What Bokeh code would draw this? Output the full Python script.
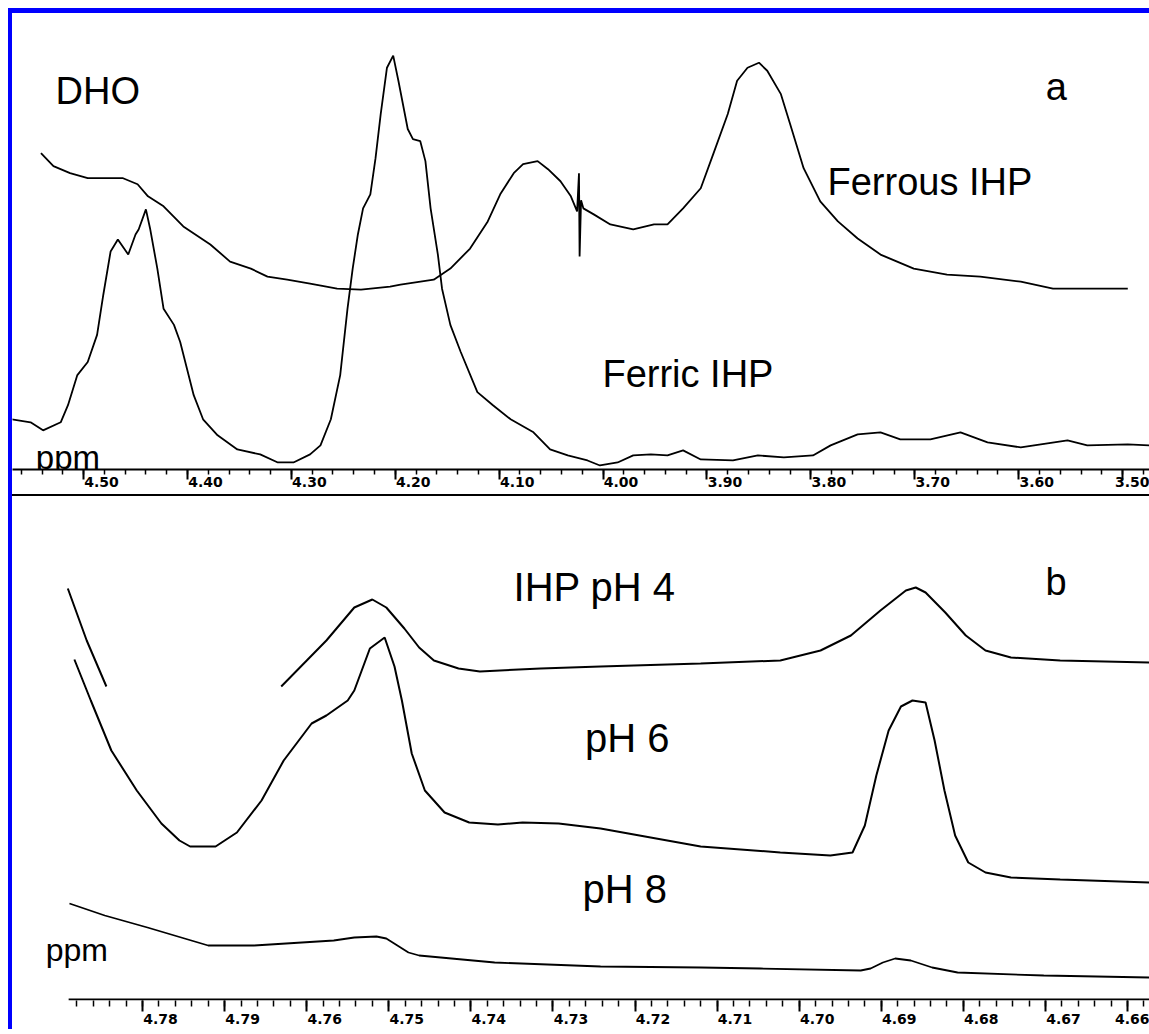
from bokeh.plotting import figure
from bokeh.layouts import column
from bokeh.models import Range1d, FixedTicker, Label, LinearAxis
from bokeh.embed import file_html
from bokeh.resources import INLINE

# ---------------- Panel a (DHO) ----------------
ferric_ppm = [4.570, 4.551, 4.539, 4.522, 4.515, 4.506, 4.496, 4.487, 4.481, 4.474,
              4.467, 4.457, 4.450, 4.447, 4.440, 4.436, 4.429, 4.423, 4.413, 4.407,
              4.394, 4.385, 4.371, 4.352, 4.330, 4.313, 4.298, 4.282, 4.272, 4.262,
              4.253, 4.246, 4.241, 4.236, 4.231, 4.224, 4.219, 4.214, 4.208, 4.202,
              4.197, 4.188, 4.183, 4.176, 4.171, 4.166, 4.159, 4.155, 4.147, 4.137,
              4.121, 4.106, 4.089, 4.067, 4.051, 4.034, 4.015, 4.003, 3.986, 3.971,
              3.954, 3.938, 3.923, 3.906, 3.875, 3.851, 3.826, 3.798, 3.781, 3.755,
              3.733, 3.714, 3.685, 3.656, 3.630, 3.598, 3.553, 3.534, 3.495, 3.474]
ferric_int = [50, 47, 39, 47, 64, 94, 107, 134, 174, 217,
              229, 214, 234, 239, 259, 240, 200, 160, 144, 127,
              74, 50, 34, 20, 15, 7, 7, 15, 24, 50,
              94, 160, 200, 234, 260, 274, 310, 354, 400, 412,
              387, 339, 329, 327, 307, 260, 214, 180, 144, 117,
              77, 64, 50, 37, 20, 14, 9, 4, 7, 14,
              15, 14, 19, 10, 9, 14, 12, 14, 24, 35,
              37, 30, 30, 37, 27, 22, 29, 24, 25, 24]

ferrous_ppm = [4.541, 4.529, 4.513, 4.496, 4.481, 4.462, 4.448, 4.438, 4.423, 4.404,
               4.378, 4.359, 4.339, 4.323, 4.304, 4.282, 4.256, 4.233, 4.205, 4.195,
               4.163, 4.147, 4.128, 4.111, 4.099, 4.086, 4.077, 4.063, 4.053, 4.041,
               4.031, 4.0250, 4.0232, 4.0226, 4.0212, 4.0190, 4.009, 3.993, 3.971, 3.951,
               3.938, 3.923, 3.906, 3.894, 3.880, 3.871, 3.861, 3.850, 3.842, 3.829,
               3.820, 3.807, 3.791, 3.774, 3.755, 3.733, 3.701, 3.669, 3.637, 3.598,
               3.567, 3.524, 3.495]
ferrous_int = [315, 302, 295, 290, 290, 290, 284, 272, 262, 242,
               224, 207, 200, 192, 189, 185, 180, 179, 182, 184,
               189, 200, 220, 247, 274, 295, 304, 307, 299, 287,
               272, 257, 295, 212, 268, 260, 254, 244, 239, 244,
               244, 260, 280, 314, 354, 387, 400, 405, 397, 374,
               344, 300, 267, 247, 230, 214, 200, 194, 192, 187,
               180, 180, 180]

a_major_ticks = [4.50, 4.40, 4.30, 4.20, 4.10, 4.00, 3.90, 3.80, 3.70, 3.60, 3.50]
a_tick_labels = ["4.50", "4.40", "4.30", "4.20", "4.10", "4.00", "3.90", "3.80",
                 "3.70", "3.60", "3.50"]

# ---------------- Panel b ----------------
ihp4_left_ppm = [4.7891, 4.7868, 4.7844]
ihp4_left_int = [412, 360, 314]
ihp4_ppm = [4.7631, 4.7576, 4.7542, 4.7520, 4.7503, 4.7481, 4.7463, 4.7445, 4.7415, 4.7389,
            4.7315, 4.7242, 4.7120, 4.7023, 4.6974, 4.6937, 4.6901, 4.6870, 4.6858, 4.6846,
            4.6822, 4.6797, 4.6773, 4.6742, 4.6682, 4.6573]
ihp4_int = [314, 360, 393, 401, 393, 372, 353, 340, 332, 329,
            332, 334, 337, 340, 350, 365, 390, 410, 413, 408,
            388, 365, 350, 343, 340, 338]

ph6_ppm = [4.7883, 4.7863, 4.7838, 4.7807, 4.7777, 4.7755, 4.7742, 4.7711, 4.7685, 4.7655,
           4.7628, 4.7594, 4.7576, 4.7550, 4.7542, 4.7523, 4.7505, 4.7493, 4.7484, 4.7472,
           4.7456, 4.7432, 4.7402, 4.7367, 4.7337, 4.7293, 4.7242, 4.7120, 4.7023, 4.6962,
           4.6935, 4.6920, 4.6906, 4.6891, 4.6876, 4.6862, 4.6846, 4.6835, 4.6823, 4.6810,
           4.6794, 4.6773, 4.6742, 4.6682, 4.6573]
ph6_int = [341, 300, 250, 210, 177, 160, 154, 154, 168, 200,
           240, 277, 285, 300, 310, 352, 363, 334, 300, 247,
           210, 188, 178, 176, 178, 177, 172, 154, 148, 145,
           148, 175, 225, 270, 294, 300, 298, 260, 210, 165,
           138, 128, 123, 121, 118]

ph8_ppm = [4.7889, 4.7846, 4.7794, 4.7720, 4.7664, 4.7567, 4.7542, 4.7515, 4.7503, 4.7476,
           4.7463, 4.7371, 4.7242, 4.7120, 4.7047, 4.6925, 4.6913, 4.6898, 4.6883, 4.6864,
           4.6838, 4.6807, 4.6702, 4.6573]
ph8_int = [97, 85, 73, 55, 55, 60, 63, 64, 62, 48,
           45, 38, 34, 33, 32, 30, 32, 38, 42, 40,
           33, 28, 25, 23]

b_major_ticks = [4.78, 4.77, 4.76, 4.75, 4.74, 4.73, 4.72, 4.71, 4.70, 4.69, 4.68, 4.67, 4.66]
b_tick_labels = ["4.78", "4.79", "4.76", "4.75", "4.74", "4.73", "4.72", "4.71",
                 "4.70", "4.69", "4.68", "4.67", "4.66"]
b_axis_start = 4.7890   # where the drawn ppm scale of panel b begins

LABEL_FONT = "Liberation Sans"
TICK_FONT = "DejaVu Sans"
W = 1137


def tick_axis(ax, major, minor, tick_out, minor_out):
    """Axis that draws the line and tick marks only (no labels)."""
    ax.ticker = FixedTicker(ticks=major, minor_ticks=minor)
    ax.axis_line_width = 2
    ax.axis_line_color = "black"
    ax.major_tick_in = 0
    ax.major_tick_out = tick_out
    ax.major_tick_line_width = 2
    ax.minor_tick_in = 0
    ax.minor_tick_out = minor_out
    ax.minor_tick_line_width = 1.5
    ax.major_label_standoff = 0
    ax.major_label_text_color = None


def label_axis(p, rng_name, major, labels, standoff):
    """Axis that draws only the tick labels (placed just right of each tick)."""
    ax = LinearAxis(x_range_name=rng_name, ticker=FixedTicker(ticks=major, minor_ticks=[]))
    ax.major_label_overrides = {t: s for t, s in zip(major, labels)}
    ax.axis_line_color = None
    ax.major_tick_line_color = None
    ax.minor_tick_line_color = None
    ax.major_tick_in = 0
    ax.major_tick_out = 0
    ax.minor_tick_in = 0
    ax.minor_tick_out = 0
    ax.major_label_standoff = standoff
    ax.major_label_text_font = TICK_FONT
    ax.major_label_text_font_style = "bold"
    ax.major_label_text_font_size = "14px"
    ax.major_label_text_color = "black"
    p.add_layout(ax, "below")


def add_label(p, x, y_base, text, size_px):
    # vertically centred text; y_base is the wanted baseline (data units = px)
    p.add_layout(Label(x=x, y=y_base + 0.3465 * size_px, text=text, text_font=LABEL_FONT,
                       text_font_size=f"{size_px}px", text_color="black",
                       text_align="left", text_baseline="middle"))


# ----- panel a figure -----
xa0, xa1 = 4.5684, 3.47411
pa = figure(width=W, height=481, x_range=Range1d(xa0, xa1), y_range=Range1d(0, 454),
            output_backend="svg", toolbar_location=None, y_axis_location=None,
            min_border_left=0, min_border_right=0, min_border_top=0, min_border_bottom=27,
            outline_line_color=None,
            styles={"border-bottom": "2px solid #000000", "box-sizing": "content-box"})
pa.xgrid.visible = False
pa.ygrid.visible = False
a_minor = [round(4.56 - 0.02 * i, 2) for i in range(55)]
tick_axis(pa.xaxis[0], a_major_ticks, a_minor, 10, 5)
shift_a = 18 / 1039.0   # label offset: half a label width, in ppm
pa.extra_x_ranges = {"lab": Range1d(xa0 + shift_a, xa1 + shift_a)}
label_axis(pa, "lab", a_major_ticks, a_tick_labels, -3)
pa.line(ferric_ppm, ferric_int, line_color="black", line_width=1.8)
pa.line(ferrous_ppm, ferrous_int, line_color="black", line_width=1.8)
add_label(pa, 4.527, 364, "DHO", 38)
add_label(pa, 3.574, 368, "a", 38)
add_label(pa, 3.784, 273, "Ferrous IHP", 38)
add_label(pa, 4.0006, 82, "Ferric IHP", 38)
add_label(pa, 4.546, 1, "ppm", 33)

# ----- panel b figure -----
yb0 = 0
xb0, xb1 = 4.79584, 4.65732
pb = figure(width=W, height=533, x_range=Range1d(xb0, xb1), y_range=Range1d(yb0, 504),
            output_backend="svg", toolbar_location=None, y_axis_location=None,
            min_border_left=0, min_border_right=0, min_border_top=0, min_border_bottom=29,
            outline_line_color=None)
pb.xgrid.visible = False
pb.ygrid.visible = False
b_minor = [round(4.788 - 0.002 * i, 3) for i in range(66)]
tick_axis(pb.xaxis[0], b_major_ticks, b_minor, 11, 6)
pb.xaxis[0].axis_line_color = None
shift_b = 18 / 8208.0
pb.extra_x_ranges = {"lab": Range1d(xb0 + shift_b, xb1 + shift_b)}
label_axis(pb, "lab", b_major_ticks, b_tick_labels, 2)
# ppm scale baseline of panel b starts at b_axis_start (not at the panel's left edge)
pb.segment(x0=[b_axis_start], y0=[yb0 + 1], x1=[xb1], y1=[yb0 + 1],
           line_color="black", line_width=2)
pb.line(ihp4_left_ppm, ihp4_left_int, line_color="black", line_width=2)
pb.line(ihp4_ppm, ihp4_int, line_color="black", line_width=2)
pb.line(ph6_ppm, ph6_int, line_color="black", line_width=2)
pb.line(ph8_ppm, ph8_int, line_color="black", line_width=1.8)
add_label(pb, 4.7348, 400, "IHP pH 4", 40)
add_label(pb, 4.7261, 249, "pH 6", 40)
add_label(pb, 4.7264, 98, "pH 8", 40)
add_label(pb, 4.6700, 405, "b", 38)
add_label(pb, 4.7918, 39, "ppm", 32)

layout = column(pa, pb, styles={"border-left": "4px solid #0000ff",
                                "border-top": "5px solid #0000ff",
                                "box-sizing": "content-box",
                                "margin-left": "8px",
                                "margin-top": "8px"})

open("out.html", "w").write(file_html(layout, INLINE))
